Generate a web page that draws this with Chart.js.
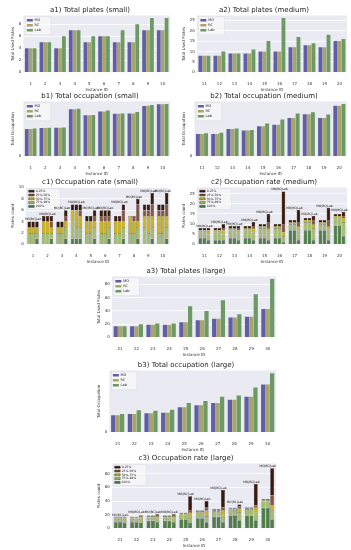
<!DOCTYPE html>
<html>
<head>
<meta charset="utf-8">
<script src="https://cdn.jsdelivr.net/npm/chart.js@4.4.0/dist/chart.umd.min.js"></script>
<style>
body { margin: 0; background: #fff; width: 351px; height: 550px; position: relative; overflow: hidden; }
canvas { position: absolute; }
</style>
</head>
<body>
<canvas id="a1" width="162" height="86" style="left:10px;top:6px"></canvas>
<canvas id="a2" width="168" height="86" style="left:181px;top:6px"></canvas>
<canvas id="b1" width="162" height="84" style="left:10px;top:92px"></canvas>
<canvas id="b2" width="168" height="84" style="left:181px;top:92px"></canvas>
<canvas id="c1" width="162" height="86" style="left:10px;top:178px"></canvas>
<canvas id="c2" width="168" height="86" style="left:181px;top:178px"></canvas>
<canvas id="a3" width="182" height="90" style="left:96px;top:267px"></canvas>
<canvas id="b3" width="182" height="91" style="left:96px;top:361px"></canvas>
<canvas id="c3" width="182" height="94" style="left:96px;top:454px"></canvas>
<script>
// instance ids
const smallIds = ['1', '2', '3', '4', '5', '6', '7', '8', '9', '10'];
const mediumIds = ['11', '12', '13', '14', '15', '16', '17', '18', '19', '20'];
const largeIds = ['21', '22', '23', '24', '25', '26', '27', '28', '29', '30'];
const methods = ['MO', 'RC', 'Lab'];

// a) total used plates
const platesSmallMO = [4, 5, 4, 7, 5, 6, 5, 5, 7, 7];
const platesSmallRC = [4, 5, 4, 7, 5, 6, 5, 5, 7, 7];
const platesSmallLab = [4, 5, 6, 7, 6, 6, 7, 8, 9, 9];
const platesMediumMO = [8, 8, 9, 9, 10, 10, 12, 13, 12, 15];
const platesMediumRC = [8, 8, 9, 9, 10, 10, 12, 13, 12, 15];
const platesMediumLab = [8, 10, 9, 11, 15, 26, 17, 14, 18, 16];
const platesLargeMO = [17, 17, 19, 19, 23, 26, 28, 30, 31, 43];
const platesLargeRC = [17, 17, 19, 19, 23, 26, 28, 30, 31, 43];
const platesLargeLab = [17, 20, 21, 21, 47, 40, 56, 35, 65, 88];

// b) total occupation
const occSmallMO = [250, 260, 262, 430, 375, 410, 390, 392, 460, 475];
const occSmallRC = [250, 260, 262, 430, 375, 410, 390, 392, 462, 475];
const occSmallLab = [255, 262, 263, 436, 378, 420, 392, 405, 470, 478];
const occMediumMO = [580, 580, 710, 670, 780, 820, 990, 1090, 990, 1310];
const occMediumRC = [580, 580, 710, 670, 780, 820, 990, 1090, 990, 1310];
const occMediumLab = [600, 610, 720, 680, 850, 950, 1110, 1140, 1080, 1350];
const occLargeMO = [1400, 1500, 1550, 1600, 2050, 2200, 2400, 2650, 2900, 3900];
const occLargeRC = [1400, 1500, 1550, 1600, 2050, 2200, 2400, 2650, 2900, 3900];
const occLargeLab = [1500, 1800, 1750, 1850, 2400, 2550, 2900, 3000, 3650, 4800];

// c) plates per occupation class, bottom to top: 100%, 75%-99%, 50%-75%, 25%-50%, 0-25%
const rateClasses = ['100%', '75%-99%', '50%-75%', '25%-50%', '0-25%'];
const rateSmallMO = [[0,0,0,1,0,0,0,0,0,0],[2,2,2,3,2,2,2,2,3,2],[1,2,1,2,2,2,2,3,2,3],[0,0,0,0,0,1,0,0,1,1],[1,1,1,1,1,1,1,0,1,1]];
const rateSmallRC = [[0,0,0,1,0,0,0,0,0,0],[2,2,2,2,2,2,2,2,2,2],[1,2,1,3,2,2,2,2,3,3],[0,0,0,0,0,1,0,1,1,1],[1,1,1,1,1,1,1,0,1,1]];
const rateSmallLab = [[1,1,1,1,1,1,1,1,1,1],[1,1,2,2,2,2,2,2,2,2],[1,1,1,2,1,1,1,1,2,2],[0,1,1,1,1,1,2,3,2,2],[1,1,1,1,1,1,1,1,2,2]];
const rateMediumMO = [[3,2,3,3,3,3,7,7,7,9],[3,4,4,4,5,5,3,4,3,4],[1,1,1,1,1,1,1,1,1,1],[0,0,0,0,0,0,0,0,0,0],[1,1,1,1,1,1,1,1,1,1]];
const rateMediumRC = [[3,2,3,3,3,3,7,7,7,9],[3,4,4,4,5,5,3,4,3,4],[1,1,1,1,1,1,1,1,1,1],[0,0,0,0,0,0,0,0,0,0],[1,1,1,1,1,1,1,1,1,1]];
const rateMediumLab = [[2,2,2,2,2,1,2,2,2,4],[3,3,4,4,4,3,5,6,5,7],[2,2,1,2,2,2,2,2,2,2],[0,1,1,1,3,4,2,2,3,1],[1,2,1,2,4,16,6,2,6,2]];
const rateLargeMO = [[9,9,11,11,13,15,17,18,19,30],[5,5,5,5,7,8,8,9,9,9],[1,1,1,1,1,1,1,1,1,2],[1,1,1,1,1,1,1,1,1,1],[1,1,1,1,1,1,1,1,1,1]];
const rateLargeRC = [[9,9,11,11,13,15,17,18,19,30],[5,5,5,5,7,8,8,9,9,9],[1,1,1,1,1,1,1,1,1,2],[1,1,1,1,1,1,1,1,1,1],[1,1,1,1,1,1,1,1,1,1]];
const rateLargeLab = [[8,8,9,9,8,9,9,12,12,13],[5,6,6,6,9,9,10,12,11,13],[2,4,3,3,7,8,8,5,7,8],[1,1,2,2,3,4,4,3,4,14],[1,1,1,1,20,10,25,3,31,40]];

//colours
const methodColors = ['#5f5ea6', '#a7a56a', '#6b9a64'];
const classColors = ['#4f7f45', '#a5be6c', '#cdb418', '#8a5540', '#3a1a0b'];
const fontFam = '"DejaVu Sans", sans-serif';

//grey plot background like seaborn, plus legend frame
const plotBg = {
    id: 'plotBg',
    beforeDraw(chart) {
        const a = chart.chartArea;
        const ctx = chart.ctx;
        ctx.save();
        ctx.fillStyle = '#eaeaf2';
        ctx.fillRect(a.left, a.top, a.right - a.left, a.bottom - a.top);
        const l = chart.legend;
        if (l && l.columnSizes && l.columnSizes.length) {
            const pad = l.options.labels.padding;
            const h = l.columnSizes[0].height + pad * 2;
            ctx.fillStyle = 'rgba(255,255,255,0.55)';
            ctx.strokeStyle = '#d8d8dc';
            ctx.lineWidth = 0.5;
            ctx.fillRect(l.left, l.top, l.width, h);
            ctx.strokeRect(l.left, l.top, l.width, h);
        }
        ctx.restore();
    }
};

//legend inside the plot, upper left
const legendInside = {
    id: 'legendInside',
    afterLayout(chart) {
        const l = chart.legend;
        if (!l) return;
        const a = chart.chartArea;
        const w = l.width, h = l.height;
        l.left = a.left + 2;
        l.top = a.top + 1.5;
        l.right = l.left + w;
        l.bottom = l.top + h;
    }
};

//"MO|RC|Lab" above each group
const groupLabels = {
    id: 'groupLabels',
    afterDatasetsDraw(chart, args, opts) {
        if (!opts.totals) return;
        const ctx = chart.ctx;
        const x = chart.scales.x, y = chart.scales.y;
        ctx.save();
        ctx.font = '3px ' + fontFam;
        ctx.fillStyle = '#111';
        ctx.textAlign = 'center';
        ctx.textBaseline = 'bottom';
        opts.totals.forEach((t, i) => {
            ctx.fillText('MO|RC|Lab', x.getPixelForValue(i), y.getPixelForValue(t) - 0.5);
        });
        ctx.restore();
    }
};

const makeChart = (id, title, labels, datasets, yTitle, yMax, step, legendOpts, totals) => {
    const ctx = document.getElementById(id).getContext('2d');
    return new Chart(ctx, {
        type: 'bar',
        data: { labels: labels, datasets: datasets },
        plugins: [plotBg, legendInside, groupLabels],
        options: {
            responsive: false,
            animation: false,
            devicePixelRatio: 1,
            layout: { padding: { left: 0, right: 2, top: 0, bottom: 0 } },
            plugins: {
                title: {
                    display: true,
                    text: title,
                    color: '#222',
                    font: { family: fontFam, size: 7, weight: 'normal' },
                    padding: { top: 0, bottom: 1 }
                },
                legend: Object.assign({
                    position: 'chartArea',
                    align: 'start',
                    labels: {
                        color: '#222',
                        font: { family: fontFam, size: 3.5 },
                        boxWidth: 6,
                        boxHeight: 2.5,
                        padding: 1.5
                    }
                }, legendOpts || {}),
                tooltip: { enabled: false },
                groupLabels: { totals: totals }
            },
            scales: {
                x: {
                    stacked: !!totals,
                    grid: { display: false },
                    border: { display: false },
                    ticks: { color: '#333', font: { family: fontFam, size: 4 }, padding: 1, maxRotation: 0 },
                    title: { display: true, text: 'Instance ID', color: '#333', font: { family: fontFam, size: 4 }, padding: 0 }
                },
                y: {
                    stacked: !!totals,
                    min: 0,
                    max: yMax,
                    afterBuildTicks: (s) => { s.ticks = s.ticks.filter(t => t.value % step === 0); },
                    grid: { color: '#ffffff', lineWidth: 0.8, drawTicks: false },
                    border: { display: false },
                    ticks: { stepSize: step, color: '#333', font: { family: fontFam, size: 4 }, padding: 2 },
                    title: { display: true, text: yTitle, color: '#333', font: { family: fontFam, size: 4 }, padding: 1 }
                }
            }
        }
    });
};

//grouped bars for a) and b)
const groupSets = (mo, rc, lab) => [mo, rc, lab].map((d, i) => ({
    label: methods[i],
    data: d,
    backgroundColor: methodColors[i],
    categoryPercentage: 0.8,
    barPercentage: 0.96
}));

//stacked bars for c)
const rateSets = (mo, rc, lab) => {
    const out = [];
    [mo, rc, lab].forEach((m, mi) => {
        m.forEach((d, ci) => {
            out.push({
                label: rateClasses[ci],
                data: d,
                stack: methods[mi],
                backgroundColor: classColors[ci],
                borderColor: '#111',
                borderWidth: 0.4,
                categoryPercentage: 0.8,
                barPercentage: 0.9
            });
        });
    });
    return out;
};
const rateLegend = {
    labels: {
        color: '#222',
        font: { family: fontFam, size: 3 },
        boxWidth: 5.5,
        boxHeight: 2,
        padding: 0.8,
        filter: (item) => item.datasetIndex < 5,
        sort: (a, b) => b.datasetIndex - a.datasetIndex
    }
};
const groupMax = (a, b, c) => a.map((v, i) => Math.max(v, b[i], c[i]));

makeChart('a1', 'a1) Total plates (small)', smallIds, groupSets(platesSmallMO, platesSmallRC, platesSmallLab), 'Total Used Plates', 9.45, 2);
makeChart('a2', 'a2) Total plates (medium)', mediumIds, groupSets(platesMediumMO, platesMediumRC, platesMediumLab), 'Total Used Plates', 27.3, 5);
makeChart('b1', 'b1) Total occupation (small)', smallIds, groupSets(occSmallMO, occSmallRC, occSmallLab), 'Total Occupation', 502, 100);
makeChart('b2', 'b2) Total occupation (medium)', mediumIds, groupSets(occMediumMO, occMediumRC, occMediumLab), 'Total Occupation', 1420, 200);
makeChart('c1', 'c1) Occupation rate (small)', smallIds, rateSets(rateSmallMO, rateSmallRC, rateSmallLab), 'Plates count', 10, 2, rateLegend, groupMax(platesSmallMO, platesSmallRC, platesSmallLab));
makeChart('c2', 'c2) Occupation rate (medium)', mediumIds, rateSets(rateMediumMO, rateMediumRC, rateMediumLab), 'Plates count', 28, 5, rateLegend, groupMax(platesMediumMO, platesMediumRC, platesMediumLab));
makeChart('a3', 'a3) Total plates (large)', largeIds, groupSets(platesLargeMO, platesLargeRC, platesLargeLab), 'Total Used Plates', 92, 20);
makeChart('b3', 'b3) Total occupation (large)', largeIds, groupSets(occLargeMO, occLargeRC, occLargeLab), 'Total Occupation', 5040, 1000);
makeChart('c3', 'c3) Occupation rate (large)', largeIds, rateSets(rateLargeMO, rateLargeRC, rateLargeLab), 'Plates count', 95, 20, rateLegend, groupMax(platesLargeMO, platesLargeRC, platesLargeLab));
</script>
</body>
</html>
